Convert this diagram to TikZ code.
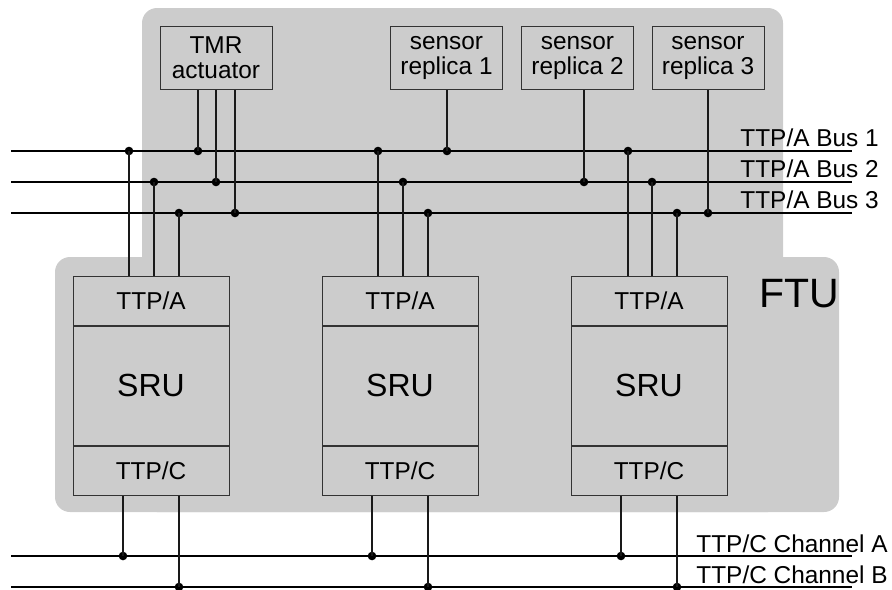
\documentclass[tikz,border=0pt]{standalone}
\usepackage{fontspec}
\setmainfont{Liberation Sans}
\usetikzlibrary{positioning}
\definecolor{ftugray}{HTML}{CCCCCC}

\begin{document}
\begin{tikzpicture}[x=0.5pt, y=-0.5pt,
        unit/.style={draw=black!80, fill=ftugray, line width=0.5pt, minimum width=56pt, minimum height=31.5pt, align=center, inner sep=0pt, font=\fontsize{12.2}{12.5}\selectfont},
        layer/.style={draw=black!80, fill=ftugray, line width=0.5pt, minimum width=78pt, minimum height=24.5pt, inner sep=0pt, font=\fontsize{12.2}{14}\selectfont},
        core/.style={layer, minimum height=59.5pt, font=\fontsize{16}{18}\selectfont},
        bus/.style={line width=1pt},
        tap/.style={line width=0.6pt, black!90},
        dot/.style={circle, fill, inner sep=0pt, minimum size=4.3pt},
        buslabel/.style={anchor=base west, inner sep=0pt, font=\fontsize{12.2}{14}\selectfont}]
        \useasboundingbox (0,0) rectangle (892,589);

        % FTU background
        \fill[ftugray, rounded corners=7.5pt] (142,8) rectangle (783,512);
        \fill[ftugray, rounded corners=7.5pt] (55,257) rectangle (839,512);
        \node[anchor=base west, inner sep=0pt, font=\fontsize{20.5}{24}\selectfont] (ftu) at (759,307) {FTU};

        % boxes
        \node[unit] (tmr) at (216,57.5) {TMR\\actuator};
        \node[unit] (s1) at (446.5,57.5) {sensor\\replica 1};
        \node[unit] (s2) at (577.5,57.5) {sensor\\replica 2};
        \node[unit] (s3) at (708,57.5) {sensor\\replica 3};

        \node[layer] (ttpa1) at (151,300.5) {TTP/A};
        \node[core, below=0pt of ttpa1] (sru1) {SRU};
        \node[layer, below=0pt of sru1] (ttpc1) {TTP/C};
        \node[layer] (ttpa2) at (400,300.5) {TTP/A};
        \node[core, below=0pt of ttpa2] (sru2) {SRU};
        \node[layer, below=0pt of sru2] (ttpc2) {TTP/C};
        \node[layer] (ttpa3) at (649,300.5) {TTP/A};
        \node[core, below=0pt of ttpa3] (sru3) {SRU};
        \node[layer, below=0pt of sru3] (ttpc3) {TTP/C};

        % buses and channels
        \coordinate (a1w) at (11,151); \coordinate (a1e) at (852,151);
        \coordinate (a2w) at (11,182); \coordinate (a2e) at (852,182);
        \coordinate (a3w) at (11,213); \coordinate (a3e) at (852,213);
        \coordinate (caw) at (11,556); \coordinate (cae) at (852,556);
        \coordinate (cbw) at (11,587); \coordinate (cbe) at (852,587);
        \draw[bus] (a1w) -- (a1e);
        \draw[bus] (a2w) -- (a2e);
        \draw[bus] (a3w) -- (a3e);
        \draw[bus] (caw) -- (cae);
        \draw[bus] (cbw) -- (cbe);
        \node[buslabel] (la1) at (740,146) {TTP/A Bus 1};
        \node[buslabel] (la2) at (740,177) {TTP/A Bus 2};
        \node[buslabel] (la3) at (740,208) {TTP/A Bus 3};
        \node[buslabel] (lca) at (696,552) {TTP/C Channel A};
        \node[buslabel] (lcb) at (696,583) {TTP/C Channel B};

        % junctions
        \node[dot] (j11) at (129,151) {};
        \node[dot] (j12) at (198,151) {};
        \node[dot] (j13) at (378,151) {};
        \node[dot] (j14) at (447,151) {};
        \node[dot] (j15) at (628,151) {};
        \node[dot] (j21) at (154,182) {};
        \node[dot] (j22) at (216,182) {};
        \node[dot] (j23) at (403,182) {};
        \node[dot] (j24) at (584,182) {};
        \node[dot] (j25) at (652,182) {};
        \node[dot] (j31) at (179,213) {};
        \node[dot] (j32) at (235,213) {};
        \node[dot] (j33) at (428,213) {};
        \node[dot] (j34) at (677,213) {};
        \node[dot] (j35) at (708,213) {};
        \node[dot] (ja1) at (123,556) {};
        \node[dot] (ja2) at (372,556) {};
        \node[dot] (ja3) at (621,556) {};
        \node[dot] (jb1) at (179,587) {};
        \node[dot] (jb2) at (428,587) {};
        \node[dot] (jb3) at (677,587) {};

        \draw[tap] (j11.center) -- (j11 |- ttpa1.north);
        \draw[tap] (j21.center) -- (j21 |- ttpa1.north);
        \draw[tap] (j31.center) -- (j31 |- ttpa1.north);
        \draw[tap] (j13.center) -- (j13 |- ttpa2.north);
        \draw[tap] (j23.center) -- (j23 |- ttpa2.north);
        \draw[tap] (j33.center) -- (j33 |- ttpa2.north);
        \draw[tap] (j15.center) -- (j15 |- ttpa3.north);
        \draw[tap] (j25.center) -- (j25 |- ttpa3.north);
        \draw[tap] (j34.center) -- (j34 |- ttpa3.north);
        \draw[tap] (j12.center) -- (j12 |- tmr.south);
        \draw[tap] (j22.center) -- (j22 |- tmr.south);
        \draw[tap] (j32.center) -- (j32 |- tmr.south);
        \draw[tap] (j14.center) -- (j14 |- s1.south);
        \draw[tap] (j24.center) -- (j24 |- s2.south);
        \draw[tap] (j35.center) -- (j35 |- s3.south);
        \draw[tap] (ja1.center) -- (ja1 |- ttpc1.south);
        \draw[tap] (jb1.center) -- (jb1 |- ttpc1.south);
        \draw[tap] (ja2.center) -- (ja2 |- ttpc2.south);
        \draw[tap] (jb2.center) -- (jb2 |- ttpc2.south);
        \draw[tap] (ja3.center) -- (ja3 |- ttpc3.south);
        \draw[tap] (jb3.center) -- (jb3 |- ttpc3.south);
    \end{tikzpicture}
\end{document}
